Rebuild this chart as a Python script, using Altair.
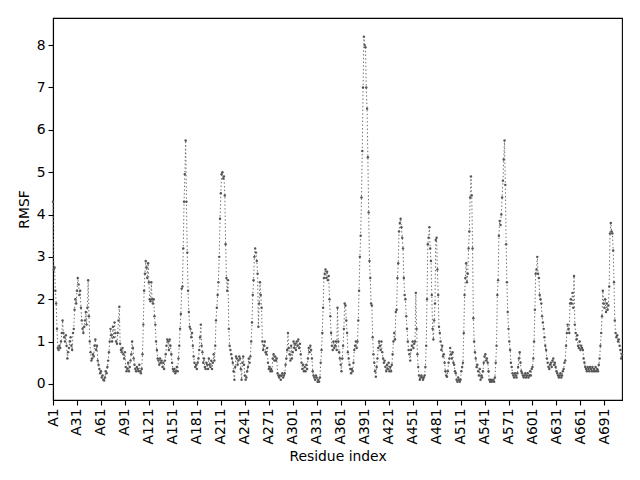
import altair as alt
import pandas as pd

rmsf = [
    4.3, 2.7, 2.75, 2.2, 1.9, 1.3, 0.85, 0.8, 0.9, 0.85,
    1.0, 1.2, 1.5, 1.2, 1.1, 1.0, 1.15, 0.9, 0.6, 0.75,
    0.85, 1.0, 1.1, 0.9, 0.8, 1.2, 1.3, 1.75, 2.0, 1.9,
    2.2, 2.5, 2.35, 2.1, 2.2, 1.8, 1.5, 1.3, 1.2, 1.35,
    1.5, 1.7, 1.4, 1.8, 2.45, 1.6, 1.0, 0.75, 0.55, 0.6,
    0.7, 0.65, 0.9, 1.05, 0.8, 0.9, 0.55, 0.45, 0.35, 0.25,
    0.3, 0.15, 0.2, 0.1, 0.08, 0.15, 0.3, 0.25, 0.4, 0.55,
    0.75, 1.0, 1.3, 1.15, 1.0, 1.35, 1.1, 1.45, 1.2, 1.0,
    0.95, 1.2, 1.5, 1.82, 0.95, 0.8, 0.75, 0.85, 0.7, 0.6,
    0.75, 0.4, 0.3, 0.35, 0.5, 0.3, 0.4, 0.55, 0.7, 1.0,
    0.85, 0.6, 0.45, 0.35, 0.3, 0.4, 0.35, 0.3, 0.45, 0.3,
    0.25, 0.35, 0.7, 1.4, 2.2, 2.6, 2.9, 2.75, 2.5, 2.85,
    2.4, 2.0, 1.95, 2.4, 2.0, 1.9, 2.0, 1.6, 1.4, 1.0,
    0.8, 0.6, 0.55, 0.45, 0.6, 0.5, 0.55, 0.4, 0.5, 0.35,
    0.55, 0.7, 0.9, 1.05, 1.0, 0.8, 1.05, 0.9, 0.7, 0.5,
    0.35, 0.3, 0.35, 0.25, 0.3, 0.4, 0.3, 0.6, 0.9, 1.3,
    1.65, 2.25, 2.3, 3.2, 4.3, 4.95, 5.75, 4.3, 3.1, 2.2,
    1.7, 1.35, 1.3, 1.1, 1.2, 0.9, 0.65, 0.5, 0.4, 0.45,
    0.35, 0.5, 0.6, 0.8, 1.1, 1.4, 0.9, 0.75, 0.5, 0.6,
    0.4, 0.35, 0.5, 0.45, 0.35, 0.6, 0.45, 0.4, 0.55, 0.35,
    0.5, 0.7, 0.55, 0.9, 1.5, 1.8, 2.1, 2.4, 3.0, 3.9,
    4.5, 4.95, 5.0, 4.85, 4.9, 4.45, 3.3, 2.5, 2.2, 2.45,
    1.3, 0.9, 0.8, 0.7, 0.6, 0.5, 0.3, 0.1, 0.4, 0.65,
    0.6, 0.45, 0.55, 0.65, 0.6, 0.35, 0.1, 0.5, 0.65, 0.45,
    0.2, 0.1, 0.15, 0.3, 0.4, 0.6, 0.5, 0.65, 1.0, 1.45,
    2.1, 2.45, 3.0, 3.2, 3.1, 2.9, 2.6, 1.35, 1.9, 2.4,
    2.1, 1.8, 1.0, 0.8, 0.9, 1.0, 0.75, 0.7, 0.85, 0.5,
    0.35, 0.4, 0.3, 0.35, 0.3, 0.6, 0.7, 0.55, 0.65, 0.55,
    0.6, 0.25, 0.2, 0.15, 0.2, 0.1, 0.2, 0.25, 0.15, 0.2,
    0.25, 0.45, 0.6, 0.8, 1.2, 0.85, 0.7, 0.55, 0.9, 0.6,
    0.75, 1.0, 0.85, 0.95, 0.8, 1.0, 0.9, 1.05, 0.85, 0.95,
    0.7, 0.5, 0.35, 0.45, 0.3, 0.4, 0.3, 0.45, 0.35, 0.6,
    0.85, 0.75, 0.9, 0.8, 0.6, 0.3, 0.2, 0.15, 0.1, 0.2,
    0.15, 0.05, 0.1, 0.05, 0.15, 0.5, 0.8, 1.2, 1.8, 2.5,
    2.6, 2.7, 2.5, 2.65, 2.45, 2.55, 2.0, 1.6, 1.2, 0.9,
    0.8, 1.0, 0.85, 0.9, 1.0, 0.8, 1.8, 1.0, 0.75, 0.6,
    0.45, 0.3, 0.6, 0.9, 1.3, 1.9, 1.85, 1.5, 1.2, 0.75,
    0.6, 0.45, 0.35, 0.25, 0.35, 0.3, 0.5, 0.8, 0.9, 1.0,
    0.85, 1.0, 1.5, 2.2, 3.0, 3.5, 4.4, 5.5, 7.0, 8.2,
    8.0, 7.95, 7.0, 6.5, 5.35, 4.05, 2.9, 2.5, 1.9, 1.85,
    1.1, 0.7, 0.5, 0.3, 0.17, 0.4, 0.6, 0.85, 1.0, 0.9,
    0.8, 1.0, 0.75, 0.6, 0.5, 0.55, 0.4, 0.3, 0.45, 0.35,
    0.5, 0.3, 0.4, 0.3, 0.45, 0.7, 1.0, 1.2, 1.05, 1.7,
    1.75, 2.5, 2.85, 3.6, 3.8, 3.9, 3.7, 3.45, 3.2, 2.5,
    2.1, 2.0, 1.6, 1.3, 1.0, 0.8, 0.7, 0.55, 0.8, 0.9,
    1.0, 0.85, 0.95, 1.0, 2.15, 1.3, 0.7, 0.4, 0.2, 0.1,
    0.15, 0.2, 0.15, 0.1, 0.15, 0.2, 0.4, 0.9, 2.0, 3.3,
    3.45, 3.7, 3.2, 2.9, 2.1, 1.3, 1.05, 1.5, 1.9, 3.4,
    3.45, 2.7, 2.1, 1.35, 1.2, 1.0, 0.8, 0.9, 0.65, 0.7,
    0.5, 0.3, 0.2, 0.17, 0.3, 0.5, 0.6, 0.85, 0.7, 0.6,
    0.75, 0.5, 0.45, 0.3, 0.25, 0.1, 0.05, 0.15, 0.1, 0.05,
    0.1, 0.3, 0.4, 0.5, 1.2, 2.1, 2.5, 2.85, 2.4, 2.6,
    3.2, 3.6, 4.4, 4.9, 4.45, 3.2, 1.55, 1.0, 0.75, 0.6,
    0.4, 0.45, 0.3, 0.2, 0.35, 0.1, 0.2, 0.15, 0.3, 0.5,
    0.65, 0.7, 0.55, 0.6, 0.5, 0.3, 0.1, 0.05, 0.1, 0.05,
    0.08, 0.1, 0.05, 0.15, 0.5, 0.9, 2.1, 2.45, 3.5, 3.85,
    3.75, 4.0, 4.4, 4.8, 5.3, 5.75, 4.7, 3.3, 2.4, 1.7,
    1.3, 1.0, 0.8, 0.5, 0.4, 0.25, 0.2, 0.15, 0.25, 0.2,
    0.15, 0.25, 0.4, 0.6, 0.75, 0.5, 0.3, 0.25, 0.2, 0.15,
    0.2, 0.25, 0.15, 0.2, 0.25, 0.15, 0.2, 0.3, 0.2, 0.35,
    0.4, 0.6, 1.0, 1.75, 2.6, 2.7, 3.0, 2.6, 2.5, 2.1,
    2.0, 1.9, 1.6, 1.45, 1.3, 1.1, 0.9, 0.8, 0.6, 0.5,
    0.4, 0.35, 0.45, 0.5, 0.4, 0.55, 0.6, 0.45, 0.5, 0.4,
    0.3, 0.25, 0.2, 0.15, 0.2, 0.25, 0.15, 0.2, 0.3, 0.35,
    0.5, 0.55, 0.9, 1.2, 1.4, 1.3, 1.2, 1.9, 2.0, 1.9,
    2.15, 1.8, 2.55, 1.4, 1.2, 1.05, 1.15, 0.9, 0.85, 1.0,
    0.8, 0.9, 0.85, 0.8, 0.6, 0.5, 0.4, 0.35, 0.3, 0.4,
    0.35, 0.3, 0.4, 0.35, 0.3, 0.4, 0.3, 0.35, 0.3, 0.4,
    0.3, 0.35, 0.3, 0.45, 0.6, 0.9, 1.2, 1.6, 2.2, 1.9,
    1.8, 2.0, 1.7, 1.9, 1.75, 1.85, 2.3, 3.55, 3.8, 3.6,
    3.55, 3.15, 2.4, 1.5, 1.2, 1.1, 1.15, 1.0, 1.05, 0.9,
    0.8, 0.6, 0.7,
]

residues = [f"A{k + 1}" for k in range(len(rmsf))]
tick_positions = list(range(0, len(rmsf), 30))
y_ticks = [0, 1, 2, 3, 4, 5, 6, 7, 8]

df = pd.DataFrame({"idx": list(range(len(rmsf))), "residue": residues, "rmsf": rmsf})

FONT = "DejaVu Sans"
n = len(rmsf)

x_enc = alt.X(
    "idx:Q",
    scale=alt.Scale(domain=[0, n - 1], nice=False, zero=False),
    axis=alt.Axis(
        values=tick_positions,
        labelExpr="'A' + (datum.value + 1)",
        labelAngle=270,
        labelAlign="right",
        labelBaseline="middle",
        labelOverlap=False,
        labelBound=False,
        labelFlush=False,
        labelSeparation=0,
        title="Residue index",
        grid=False,
    ),
)
y_enc = alt.Y(
    "rmsf:Q",
    scale=alt.Scale(domain=[-0.38, 8.64], nice=False, zero=False),
    axis=alt.Axis(values=y_ticks, title="RMSF", grid=False, labelOverlap=False),
)

base = alt.Chart(df).encode(x=x_enc, y=y_enc)

line = base.mark_line(color="#6e6e6e", strokeWidth=1, strokeDash=[1.4, 2.3])
pts = base.mark_circle(color="#555555", size=6, opacity=1)

chart = (
    alt.layer(line, pts)
    .properties(
        width=569,
        height=382,
        autosize=alt.AutoSizeParams(type="none"),
        padding={"left": 45, "top": 10, "right": 10, "bottom": 72},
        background="white",
    )
    .configure_axis(
        labelFont=FONT,
        titleFont=FONT,
        labelFontSize=13.9,
        titleFontSize=13.9,
        labelColor="black",
        titleColor="black",
        titleFontWeight="normal",
        domainColor="black",
        domainWidth=1.1,
        tickColor="black",
        tickWidth=1.1,
        tickSize=5,
        labelPadding=3,
        titlePadding=5,
        labelOverlap=False,
    )
    .configure_view(stroke="black", strokeWidth=1.1)
)

chart.save("out.html", embed_options={"renderer": "svg", "actions": False})
